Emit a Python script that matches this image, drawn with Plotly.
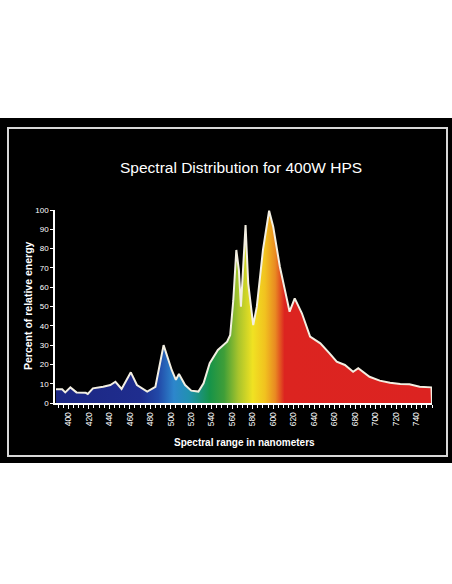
import plotly.graph_objects as go

# ---- data ----
wavelength_nm = [388, 394, 397, 402, 408, 417, 419, 424, 434, 441, 446, 452, 461, 467,
                 477, 485, 493, 501, 505, 508, 514, 520, 527, 532, 538, 546, 555, 558,
                 561, 564, 566.5, 568.5, 570.7, 573, 575.6, 580.5, 584, 590, 596, 600,
                 606.5, 616, 621, 628, 636, 646, 655, 662, 670, 678, 683, 689.5, 694,
                 704, 714, 724, 733, 743, 754.5, 755]
relative_energy = [7.1, 7.1, 5.5, 8.1, 5.5, 5.3, 4.7, 7.6, 8.4, 9.3, 11, 7.3, 15.9, 9.3,
                   5.9, 8.4, 30, 17, 12, 15, 9.3, 6.4, 5.9, 10.2, 20.6, 27.5, 31.8, 35.2,
                   53, 79.3, 68.9, 49.9, 70.6, 92.2, 62, 40.4, 49.9, 79.3, 99.6, 91.3,
                   70.6, 47.3, 54.2, 46.5, 34.4, 30.9, 25.7, 21.4, 19.7, 16.2, 18, 15.4, 13.6,
                   11.6, 10.5, 9.8, 9.7, 8.4, 8.1, 0]
x_tick_values = list(range(400, 741, 20))
x_tick_labels = [str(v) for v in x_tick_values]
y_tick_values = list(range(0, 101, 10))

title_text = "Spectral Distribution for 400W HPS"
x_title = "Spectral range in nanometers"
y_title = "Percent of relative energy"

# spectrum colour stops (wavelength, colour)
spectrum_nm = [387, 470, 488, 503, 518, 538, 552, 566, 580, 592, 602, 611, 755]
spectrum_col = ["#1c2783", "#1f2d8e", "#2249a8", "#2d86cc", "#2191b0", "#169349",
                "#3f9e38", "#a8c42c", "#f0e222", "#f1c21f", "#e98a22", "#dc2420", "#dc2321"]

X_MIN, X_MAX = 387, 755

# ---- layout geometry (pixels) ----
W, H = 452, 584
L, R, T, B = 55, 20, 210, 181
pw, ph = W - L - R, H - T - B


def px(x):
    return (x - L) / pw


def py(y):
    return (H - B - y) / ph


colorscale = [[(w - X_MIN) / (X_MAX - X_MIN), c] for w, c in zip(spectrum_nm, spectrum_col)]

fig = go.Figure()
fig.add_trace(go.Scatter(
    x=wavelength_nm, y=relative_energy, mode="lines",
    line=dict(color="#f3efe2", width=2),
    fill="tozeroy",
    fillgradient=dict(type="horizontal", colorscale=colorscale, start=X_MIN, stop=X_MAX),
    hoverinfo="skip", showlegend=False,
))

font = "Liberation Sans, Arial, sans-serif"

fig.update_layout(
    width=W, height=H,
    margin=dict(l=L, r=R, t=T, b=B, pad=0),
    paper_bgcolor="white", plot_bgcolor="black",
    showlegend=False,
    font=dict(family=font, color="white"),
    xaxis=dict(
        range=[X_MIN, X_MAX], tickmode="array", tickvals=x_tick_values, ticktext=x_tick_labels,
        tickangle=-90, tickfont=dict(size=8.5, color="white", family=font),
        showgrid=False, zeroline=False, showline=True, linecolor="white", linewidth=1.5,
        ticks="outside", ticklen=4, tickcolor="white", tickwidth=1,
        minor=dict(dtick=5, tick0=400, ticks="outside", ticklen=3, tickcolor="white", tickwidth=1),
    ),
    yaxis=dict(
        range=[0, 100], tickmode="array", tickvals=y_tick_values,
        tickfont=dict(size=8, color="white", family=font),
        showgrid=False, zeroline=False, showline=True, linecolor="white", linewidth=1.5,
        ticks="outside", ticklen=3, tickcolor="white", tickwidth=1,
    ),
    shapes=[
        dict(type="rect", xref="paper", yref="paper", layer="below",
             x0=px(0), x1=px(W), y0=py(463), y1=py(118),
             fillcolor="black", line=dict(width=0)),
        dict(type="rect", xref="paper", yref="paper", layer="above",
             x0=px(8), x1=px(447), y0=py(456), y1=py(128),
             fillcolor="rgba(0,0,0,0)", line=dict(color="#d8d8d8", width=2)),
    ],
    annotations=[
        dict(text=title_text, xref="paper", yref="paper", x=px(241), y=py(168),
             showarrow=False, xanchor="center", yanchor="middle",
             font=dict(size=15.5, color="white", family=font)),
        dict(text="<b>" + x_title + "</b>", xref="paper", yref="paper", x=px(244), y=py(442),
             showarrow=False, xanchor="center", yanchor="middle",
             font=dict(size=10, color="white", family=font)),
        dict(text="<b>" + y_title + "</b>", xref="paper", yref="paper", x=px(28), y=py(306),
             showarrow=False, xanchor="center", yanchor="middle", textangle=-90,
             font=dict(size=10.5, color="white", family=font)),
    ],
)

fig.write_html("out.html", config={"displayModeBar": False},
               post_script="document.body.style.margin='0';document.body.style.overflow='hidden';")
